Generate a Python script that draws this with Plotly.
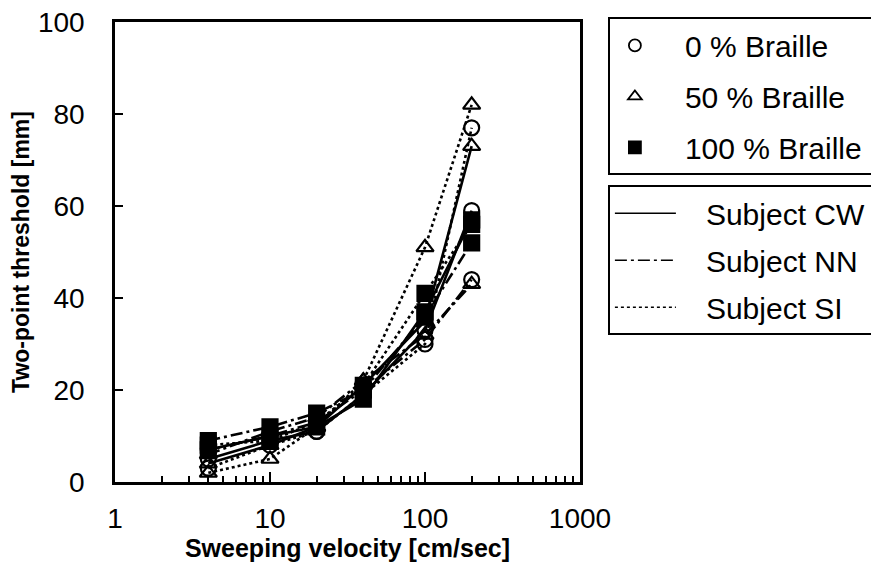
import plotly.graph_objects as go

velocity = [4, 10, 20, 40, 100, 200]

cw_0 = [5, 9, 11, 19, 33, 59]
cw_50 = [4, 8, 12, 21, 35, 73]
cw_100 = [7, 10, 12, 18, 37, 57]
nn_0 = [7, 10, 13, 20, 31, 44]
nn_50 = [6, 11, 14, 22, 32, 43]
nn_100 = [9, 12, 15, 20, 36, 52]
si_0 = [3, 8, 11, 19, 30, 77]
si_50 = [2, 5, 12, 22, 51, 82]
si_100 = [8, 9, 13, 21, 41, 56]

braille_labels = ["0 % Braille", "50 % Braille", "100 % Braille"]
subject_labels = ["Subject CW", "Subject NN", "Subject SI"]

symbols = ["circle-open", "triangle-up-open", "square"]
dashes = ["solid", "12px,4px,3px,4px", "3px,3px"]

series = [
    (cw_0, 0, 0), (cw_50, 1, 0), (cw_100, 2, 0),
    (nn_0, 0, 1), (nn_50, 1, 1), (nn_100, 2, 1),
    (si_0, 0, 2), (si_50, 1, 2), (si_100, 2, 2),
]

FONT = "Liberation Sans, Arial, Helvetica, sans-serif"
NB = "\u00a0"

fig = go.Figure()
for vals, b, s in series:
    fig.add_trace(go.Scatter(
        x=velocity, y=vals, mode="lines+markers",
        line=dict(color="black", width=2.6, dash=dashes[s]),
        marker=dict(symbol=symbols[b], size=15, color="black",
                    line=dict(color="black", width=2.2)),
        showlegend=False,
    ))

for i, name in enumerate(braille_labels):
    fig.add_trace(go.Scatter(
        x=[None], y=[None], mode="markers", name=NB * 3 + name + NB,
        marker=dict(symbol=symbols[i], size=12, color="black",
                    line=dict(color="black", width=1.8)),
        legend="legend", legendgroup="b%d" % i,
    ))
for i, name in enumerate(subject_labels):
    fig.add_trace(go.Scatter(
        x=[None], y=[None], mode="lines", name=NB * 3 + name + NB,
        line=dict(color="black", width=1.6, dash=dashes[i]),
        legend="legend2", legendgroup="s%d" % i,
    ))

axis_common = dict(
    showline=True, linecolor="black", linewidth=2.5, mirror=True,
    showgrid=False, zeroline=False, ticks="inside", tickcolor="black",
    tickwidth=1.5, tickfont=dict(family=FONT, size=28, color="black"),
    automargin=False, ticklabeloverflow="allow",
)

# page body has an 8px margin, so the figure is sized to fit the window
fig.update_layout(
    width=871, height=558,
    margin=dict(l=107, r=299, t=14, b=84, autoexpand=False),
    paper_bgcolor="white", plot_bgcolor="white",
    font=dict(family=FONT, color="black"),
    xaxis=dict(
        type="log", range=[0, 3], dtick=1, ticklen=10,
        minor=dict(ticks="inside", ticklen=6, tickcolor="black", tickwidth=1.5, dtick="D1", showgrid=False),
        title=dict(text="<b>Sweeping velocity [cm/sec]</b>", font=dict(family=FONT, size=25), standoff=6),
        ticklabelstandoff=10,
        **axis_common,
    ),
    yaxis=dict(
        range=[0, 100], dtick=20, ticklen=8,
        title=dict(text="<b>Two-point threshold [mm]</b>", font=dict(family=FONT, size=23), standoff=10),
        ticklabelstandoff=22,
        **axis_common,
    ),
    legend=dict(
        x=1.06, y=1.01, xanchor="left", yanchor="top",
        bordercolor="black", borderwidth=2, bgcolor="white",
        font=dict(family=FONT, size=30, color="black"),
        tracegroupgap=9, traceorder="grouped", itemwidth=40,
    ),
    legend2=dict(
        x=1.06, y=0.645, xanchor="left", yanchor="top",
        bordercolor="black", borderwidth=2, bgcolor="white",
        font=dict(family=FONT, size=30, color="black"),
        tracegroupgap=5, traceorder="grouped", itemwidth=61,
    ),
)

fig.write_html("out.html")
